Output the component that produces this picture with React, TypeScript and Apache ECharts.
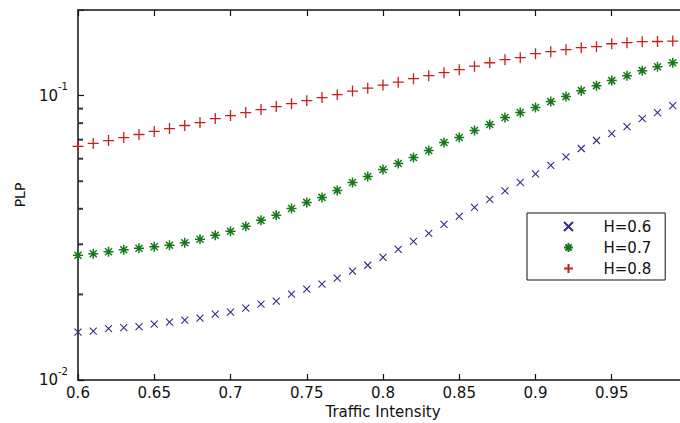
import React, { useEffect, useRef } from "react";
import * as echarts from "echarts";

// Traffic intensity (x) values
const intensity = [
  0.6, 0.61, 0.62, 0.63, 0.64, 0.65, 0.66, 0.67, 0.68, 0.69,
  0.7, 0.71, 0.72, 0.73, 0.74, 0.75, 0.76, 0.77, 0.78, 0.79,
  0.8, 0.81, 0.82, 0.83, 0.84, 0.85, 0.86, 0.87, 0.88, 0.89,
  0.9, 0.91, 0.92, 0.93, 0.94, 0.95, 0.96, 0.97, 0.98, 0.99,
];

// PLP for H=0.6
const plpH06 = [
  0.01474, 0.01486, 0.01516, 0.01529, 0.01541, 0.01573, 0.01598, 0.01624, 0.0165, 0.01704,
  0.01732, 0.01789, 0.01848, 0.01893, 0.02004, 0.02086, 0.02172, 0.0228, 0.02413, 0.02532,
  0.02701, 0.02882, 0.03074, 0.0328, 0.03527, 0.03763, 0.04046, 0.04317, 0.04623, 0.04951,
  0.05304, 0.05681, 0.06085, 0.06516, 0.06952, 0.07356, 0.07784, 0.08305, 0.08718, 0.09224,
];

// PLP for H=0.7
const plpH07 = [
  0.02746, 0.02779, 0.02824, 0.0287, 0.02906, 0.02941, 0.02977, 0.03038, 0.03125, 0.03227,
  0.03333, 0.03471, 0.03642, 0.03793, 0.04012, 0.04212, 0.04386, 0.04642, 0.04951, 0.05196,
  0.05499, 0.05772, 0.0606, 0.06412, 0.06841, 0.07123, 0.07539, 0.07912, 0.08373, 0.08718,
  0.09078, 0.09526, 0.09919, 0.1041, 0.1084, 0.1129, 0.1175, 0.1224, 0.1264, 0.1305,
];

// PLP for H=0.8
const plpH08 = [
  0.0663, 0.0679, 0.0695, 0.0712, 0.073, 0.0748, 0.0766, 0.0785, 0.0804, 0.083,
  0.0851, 0.0872, 0.0893, 0.0915, 0.0937, 0.096, 0.0984, 0.1008, 0.1037, 0.1062,
  0.1089, 0.1115, 0.1147, 0.1175, 0.1204, 0.1234, 0.1269, 0.1305, 0.1338, 0.136,
  0.1404, 0.1427, 0.145, 0.1474, 0.1486, 0.1522, 0.1535, 0.1547, 0.155, 0.1555,
];

const seriesNames = ["H=0.6", "H=0.7", "H=0.8"];
const X_MIN = 0.6;
const X_MAX = 1.0;
const X_STEP = 0.05;
const Y_MIN = 0.01;
const Y_MAX = 0.2;
// minor ticks of the logarithmic PLP axis
const yMinorTicks = [0.02, 0.03, 0.04, 0.05, 0.06, 0.07, 0.08, 0.09, 0.2];

const FONT = "DejaVu Sans";

export default function App() {
  const ref = useRef<HTMLDivElement>(null);

  useEffect(() => {
    if (!ref.current) return;
    const chart = echarts.init(ref.current, undefined, { renderer: "svg" });
    const zip = (ys: number[]) => intensity.map((x, i) => [x, ys[i]]);
    const axisLine = { show: true, lineStyle: { color: "#111", width: 1.5 } };
    const tick = { show: true, inside: true, length: 6, lineStyle: { color: "#111", width: 1.2 } };

    const option: any = {
      animation: false,
      backgroundColor: "#fff",
      textStyle: { fontFamily: FONT },
      grid: { left: 78, top: 10, width: 610, height: 370, outerBoundsMode: "none", containLabel: false },
      legend: {
        data: seriesNames,
        orient: "vertical",
        left: 527,
        top: 213,
        itemWidth: 60,
        itemHeight: 9,
        itemGap: 6,
        padding: [6, 14, 4, 36],
        backgroundColor: "#fff",
        borderColor: "#111",
        borderWidth: 1,
        borderRadius: 0,
        textStyle: { fontFamily: FONT, fontSize: 15, color: "#111", lineHeight: 15 },
      },
      xAxis: [
        {
          type: "value",
          min: X_MIN,
          max: X_MAX,
          interval: X_STEP,
          name: "Traffic Intensity",
          nameLocation: "middle",
          nameGap: 19,
          nameTextStyle: { fontFamily: FONT, fontSize: 15, color: "#111" },
          axisLine,
          axisTick: tick,
          axisLabel: {
            margin: 5,
            fontFamily: FONT,
            fontSize: 15,
            color: "#111",
            formatter: (v: number) => (v >= X_MAX - 1e-9 ? "" : String(+v.toFixed(2))),
          },
          splitLine: { show: false },
        },
        {
          type: "value",
          position: "top",
          min: X_MIN,
          max: X_MAX,
          interval: X_STEP,
          axisLine,
          axisTick: tick,
          axisLabel: { show: false },
          splitLine: { show: false },
        },
      ],
      yAxis: {
        type: "log",
        logBase: 10,
        min: Y_MIN,
        max: Y_MAX,
        name: "PLP",
        nameLocation: "middle",
        nameGap: 51,
        nameTextStyle: { fontFamily: FONT, fontSize: 14, color: "#111" },
        axisLine,
        axisTick: tick,
        axisLabel: {
          margin: 10,
          color: "#111",
          formatter: (v: number) => {
            const e = Math.log10(v);
            if (Math.abs(e - Math.round(e)) > 1e-6) return "";
            return `{b|10}{s|${Math.round(e)}}`;
          },
          rich: {
            b: { fontFamily: FONT, fontSize: 15, color: "#111", lineHeight: 28 },
            s: { fontFamily: FONT, fontSize: 10, color: "#111", verticalAlign: "top", lineHeight: 12 },
          },
        },
        splitLine: { show: false },
      },
      series: [
        {
          name: seriesNames[0],
          type: "scatter",
          data: zip(plpH06),
          symbol: "path://M0,0L10,10M10,0L0,10",
          symbolSize: 7,
          itemStyle: { color: "#2e2e86", borderColor: "#2e2e86", borderWidth: 1.1, opacity: 1 },
        },
        {
          name: seriesNames[1],
          type: "scatter",
          data: zip(plpH07),
          symbol: "path://M5,0L5,10M0,5L10,5M1.5,1.5L8.5,8.5M8.5,1.5L1.5,8.5",
          symbolSize: 10,
          itemStyle: { color: "#16781a", borderColor: "#16781a", borderWidth: 1.5, opacity: 1 },
        },
        {
          name: seriesNames[2],
          type: "scatter",
          data: zip(plpH08),
          symbol: "path://M5,0L5,10M0,5L10,5",
          symbolSize: 11,
          itemStyle: { color: "#c81e1e", borderColor: "#c81e1e", borderWidth: 1.3, opacity: 1 },
        },
        {
          name: "minor",
          type: "scatter",
          data: yMinorTicks.map((v) => [X_MIN + X_STEP / 30.5, v]),
          symbol: "rect",
          symbolSize: [5, 2],
          itemStyle: { color: "#333333", opacity: 1 },
        },
      ],
    };

    chart.setOption(option);
    return () => chart.dispose();
  }, []);

  return (
    <div
      ref={ref}
      style={{ position: "fixed", left: 0, top: 0, width: 680, height: 423, background: "#fff" }}
    />
  );
}
